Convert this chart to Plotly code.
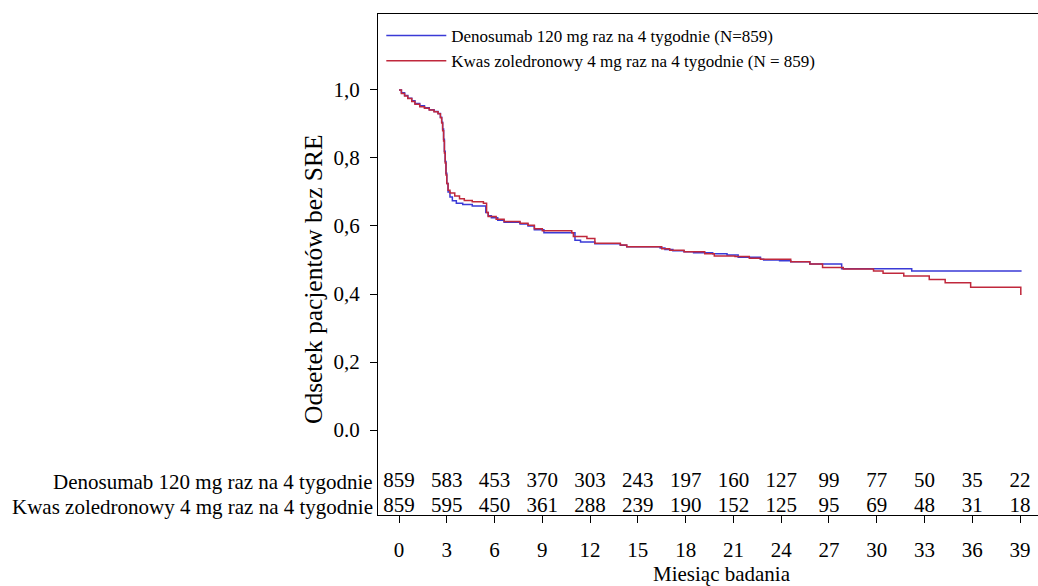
import plotly.graph_objects as go

# ---- data ----
months_ticks = [0, 3, 6, 9, 12, 15, 18, 21, 24, 27, 30, 33, 36, 39]
risk_deno = [859, 583, 453, 370, 303, 243, 197, 160, 127, 99, 77, 50, 35, 22]
risk_zol = [859, 595, 450, 361, 288, 239, 190, 152, 125, 95, 69, 48, 31, 18]

deno_t = [0, 0.15, 0.35, 0.55, 0.8, 1.0, 1.3, 1.6, 1.9, 2.2, 2.45, 2.6, 2.68, 2.74,
          2.8, 2.85, 2.9, 2.95, 3.0, 3.08, 3.2, 3.35, 3.6, 4.0, 4.6, 5.45, 5.6, 5.8,
          6.2, 6.6, 7.6, 8.1, 8.5, 9.1, 11.05, 11.4, 12.3, 13.9, 14.3, 16.4, 16.7,
          17.2, 17.9, 18.5, 19.7, 20.6, 21.3, 22.7, 22.9, 23.9, 24.6, 25.8, 27.8,
          32.2, 39.1]
deno_s = [1.000, 0.992, 0.984, 0.976, 0.968, 0.960, 0.954, 0.948, 0.942, 0.937,
          0.931, 0.920, 0.905, 0.885, 0.855, 0.820, 0.790, 0.755, 0.725, 0.700,
          0.685, 0.674, 0.667, 0.663, 0.659, 0.640, 0.630, 0.624, 0.617, 0.611,
          0.606, 0.600, 0.589, 0.580, 0.558, 0.553, 0.548, 0.543, 0.539, 0.535,
          0.531, 0.527, 0.524, 0.521, 0.518, 0.515, 0.508, 0.502, 0.500, 0.498,
          0.495, 0.488, 0.474, 0.468, 0.468]

zol_t = [0, 0.15, 0.35, 0.55, 0.8, 1.0, 1.3, 1.6, 1.9, 2.2, 2.45, 2.6, 2.68, 2.74,
         2.8, 2.85, 2.9, 2.95, 3.0, 3.08, 3.2, 3.5, 3.8, 4.1, 4.6, 5.3, 5.5, 5.6,
         6.1, 6.6, 7.6, 8.1, 8.5, 9.0, 10.85, 10.95, 11.8, 12.3, 13.9, 14.3, 16.5,
         17.0, 17.9, 19.2, 19.8, 21.1, 22.0, 22.7, 24.6, 25.8, 26.6, 27.9, 29.8,
         30.4, 31.7, 33.3, 34.3, 35.9, 39.05, 39.1]
zol_s = [1.000, 0.990, 0.982, 0.975, 0.966, 0.958, 0.951, 0.946, 0.941, 0.936,
         0.930, 0.918, 0.903, 0.880, 0.850, 0.815, 0.785, 0.750, 0.725, 0.705,
         0.697, 0.688, 0.680, 0.675, 0.671, 0.667, 0.640, 0.628, 0.620, 0.613,
         0.608, 0.602, 0.592, 0.586, 0.580, 0.569, 0.563, 0.549, 0.544, 0.539,
         0.533, 0.529, 0.524, 0.518, 0.512, 0.510, 0.505, 0.502, 0.495, 0.488,
         0.478, 0.4735, 0.468, 0.461, 0.453, 0.443, 0.433, 0.420, 0.399, 0.399]

y_ticks = [0.0, 0.2, 0.4, 0.6, 0.8, 1.0]
y_tick_text = ["0.0", "0,2", "0,4", "0,6", "0,8", "1,0"]

name_deno = "Denosumab 120 mg raz na 4 tygodnie (N=859)"
name_zol = "Kwas zoledronowy 4 mg raz na 4 tygodnie (N = 859)"
row_deno = "Denosumab 120 mg raz na 4 tygodnie"
row_zol = "Kwas zoledronowy 4 mg raz na 4 tygodnie"

FONT = "Liberation Serif, Times New Roman, serif"
BLUE = "#3a3ad6"
RED = "#c0283c"
ROW1_Y = -0.152
ROW2_Y = -0.226

fig = go.Figure()
fig.add_trace(go.Scatter(x=deno_t, y=deno_s, mode="lines", line_shape="hv",
                         line=dict(color=BLUE, width=1.5), name=name_deno))
fig.add_trace(go.Scatter(x=zol_t, y=zol_s, mode="lines", line_shape="hv",
                         line=dict(color=RED, width=1.5), name=name_zol))
fig.add_trace(go.Scatter(x=months_ticks, y=[ROW1_Y] * len(months_ticks), mode="text",
                         text=[str(v) for v in risk_deno], textposition="middle center",
                         textfont=dict(family=FONT, size=21, color="black"),
                         showlegend=False, hoverinfo="skip"))
fig.add_trace(go.Scatter(x=months_ticks, y=[ROW2_Y] * len(months_ticks), mode="text",
                         text=[str(v) for v in risk_zol], textposition="middle center",
                         textfont=dict(family=FONT, size=21, color="black"),
                         showlegend=False, hoverinfo="skip"))

fig.update_layout(
    width=1038, height=586,
    margin=dict(l=378, r=0, t=14, b=71),
    paper_bgcolor="white", plot_bgcolor="white",
    font=dict(family=FONT, size=21, color="black"),
    showlegend=True,
    legend=dict(x=0.005, y=0.992, xanchor="left", yanchor="top",
                font=dict(family=FONT, size=17, color="black"),
                bgcolor="rgba(0,0,0,0)", itemwidth=60, tracegroupgap=0),
    xaxis=dict(range=[-1.32, 40.13], tickvals=months_ticks,
               ticktext=[str(m) for m in months_ticks],
               ticks="outside", ticklen=7, tickcolor="black", tickwidth=1,
               showline=True, linecolor="black", linewidth=1, mirror=True,
               showgrid=False, zeroline=False, ticklabelstandoff=9,
               tickfont=dict(family=FONT, size=21)),
    yaxis=dict(range=[-0.25, 1.2235], tickvals=y_ticks, ticktext=y_tick_text,
               ticks="outside", ticklen=7, tickcolor="black", tickwidth=1,
               showline=True, linecolor="black", linewidth=1, mirror=False,
               showgrid=False, zeroline=False, ticklabelstandoff=6,
               tickfont=dict(family=FONT, size=21)),
)

fig.add_annotation(text=row_deno, xref="paper", yref="y", x=0, y=ROW1_Y,
                   xanchor="right", yanchor="middle", xshift=-3, showarrow=False,
                   font=dict(family=FONT, size=21))
fig.add_annotation(text=row_zol, xref="paper", yref="y", x=0, y=ROW2_Y,
                   xanchor="right", yanchor="middle", xshift=-3, showarrow=False,
                   font=dict(family=FONT, size=21))
fig.add_annotation(text="Miesiąc badania", xref="x", yref="paper", x=20.3, y=0,
                   xanchor="center", yanchor="middle", yshift=-59, showarrow=False,
                   font=dict(family=FONT, size=21))
fig.add_annotation(text="Odsetek pacjentów bez SRE", xref="paper", yref="y",
                   x=0, y=0.444, xanchor="center", yanchor="middle", xshift=-65,
                   textangle=-90, showarrow=False, font=dict(family=FONT, size=25.5))

fig.write_html("out.html",
               config={"displayModeBar": False},
               post_script="document.body.style.margin='0';"
                           "document.body.style.overflow='hidden';")
